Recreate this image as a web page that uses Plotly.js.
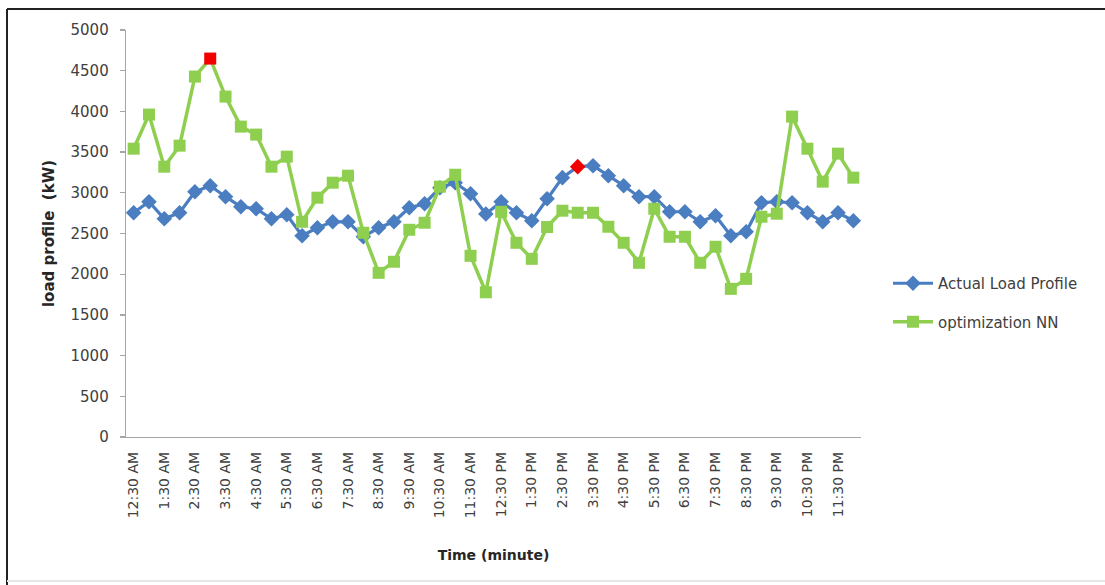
<!DOCTYPE html>
<html>
<head>
<meta charset="utf-8">
<script src="https://cdn.plot.ly/plotly-3.0.1.min.js"></script>
<style>
  html, body { margin: 0; padding: 0; background: #ffffff; }
  #chart { width: 1105px; height: 585px; }
</style>
</head>
<body>
<div id="chart"></div>
<script>
// Time categories (every 30 minutes)
const times = [
  "12:30 AM","1:00 AM","1:30 AM","2:00 AM","2:30 AM","3:00 AM","3:30 AM","4:00 AM",
  "4:30 AM","5:00 AM","5:30 AM","6:00 AM","6:30 AM","7:00 AM","7:30 AM","8:00 AM",
  "8:30 AM","9:00 AM","9:30 AM","10:00 AM","10:30 AM","11:00 AM","11:30 AM","12:00 PM",
  "12:30 PM","1:00 PM","1:30 PM","2:00 PM","2:30 PM","3:00 PM","3:30 PM","4:00 PM",
  "4:30 PM","5:00 PM","5:30 PM","6:00 PM","6:30 PM","7:00 PM","7:30 PM","8:00 PM",
  "8:30 PM","9:00 PM","9:30 PM","10:00 PM","10:30 PM","11:00 PM","11:30 PM","12:00 AM "
];

// Tick labels shown on the axis
const tickLabels = [
  "12:30 AM","1:30 AM","2:30 AM","3:30 AM","4:30 AM","5:30 AM","6:30 AM","7:30 AM",
  "8:30 AM","9:30 AM","10:30 AM","11:30 AM","12:30 PM","1:30 PM","2:30 PM","3:30 PM",
  "4:30 PM","5:30 PM","6:30 PM","7:30 PM","8:30 PM","9:30 PM","10:30 PM","11:30 PM"
];

// Actual Load Profile (kW)
const actualLoad = [
  2755, 2890, 2681, 2755, 3013, 3087, 2952, 2829, 2804, 2681, 2730, 2472,
  2570, 2644, 2644, 2460, 2570, 2644, 2817, 2866, 3062, 3124, 2989, 2740,
  2890, 2755, 2657, 2927, 3186, 3321, 3333, 3210, 3087, 2952, 2952, 2767,
  2767, 2644, 2718, 2472, 2521, 2878, 2890, 2878, 2755, 2644, 2755, 2657
];

// optimization NN (kW)
const optimizationNN = [
  3542, 3961, 3321, 3579, 4428, 4649, 4182, 3813, 3715, 3321, 3444, 2644,
  2940, 3124, 3210, 2509, 2017, 2153, 2546, 2632, 3075, 3222, 2226, 1778,
  2767, 2386, 2189, 2580, 2780, 2755, 2755, 2583, 2386, 2140, 2804, 2460,
  2460, 2140, 2337, 1820, 1943, 2706, 2743, 3936, 3542, 3137, 3481, 3186
];

// Highlighted (peak) points
const actualPeakIndex = 29;
const nnPeakIndex = 5;

const blue = "#4A7EC0";
const green = "#8FCF4F";
const red = "#F20000";

const blueColors = actualLoad.map((v, i) => i === actualPeakIndex ? red : blue);
const greenColors = optimizationNN.map((v, i) => i === nnPeakIndex ? red : green);

const font = "'DejaVu Sans', 'Liberation Sans', sans-serif";

const traces = [
  {
    x: times, y: actualLoad, type: "scatter", mode: "lines+markers",
    name: "Actual Load Profile", legendgroup: "a",
    line: { color: blue, width: 3.2 },
    marker: { symbol: "diamond", size: 12, color: blueColors, line: { width: 0 } },
    cliponaxis: false
  },
  {
    x: times, y: optimizationNN, type: "scatter", mode: "lines+markers",
    name: "optimization NN", legendgroup: "b",
    line: { color: green, width: 3.5 },
    marker: { symbol: "square", size: 12, color: greenColors, line: { width: 0 } },
    cliponaxis: false
  }
];

// tick values: every second category
const tickVals = times.filter((t, i) => i % 2 === 0);

const L = 126, R = 861, T = 30, B = 437;
const W = R - L, H = B - T;

const layout = {
  width: 1105, height: 585,
  margin: { l: L, r: 1105 - R, t: T, b: 585 - B },
  paper_bgcolor: "#ffffff", plot_bgcolor: "#ffffff",
  font: { family: font, color: "#404040" },
  showlegend: true,
  legend: {
    x: (888 - L) / W, xanchor: "left", y: (B - 267) / H, yanchor: "top",
    font: { family: font, size: 15, color: "#404040" },
    traceorder: "grouped", tracegroupgap: 16,
    bgcolor: "rgba(0,0,0,0)", itemwidth: 40
  },
  xaxis: {
    type: "category",
    categoryorder: "array", categoryarray: times,
    range: [-0.5, times.length - 0.5],
    tickmode: "array", tickvals: tickVals, ticktext: tickLabels,
    tickangle: -90,
    tickfont: { family: font, size: 14, color: "#404040" },
    showgrid: false, zeroline: false,
    showline: true, linecolor: "#A6A6A6", linewidth: 1.3,
    ticks: "", ticklabelstandoff: 8,
    title: { text: "<b>Time (minute)</b>", font: { family: font, size: 14, color: "#262626" }, standoff: 32 }
  },
  yaxis: {
    range: [0, 5000], dtick: 500, tick0: 0,
    tickfont: { family: font, size: 15, color: "#404040" },
    showgrid: false, zeroline: false,
    showline: true, linecolor: "#A6A6A6", linewidth: 1.3,
    ticks: "outside", ticklen: 5, tickcolor: "#A6A6A6", tickwidth: 1.3,
    ticklabelstandoff: 8,
    title: { text: "<b>load profile  (kW)</b>", font: { family: font, size: 15, color: "#262626" }, standoff: 12 }
  },
  shapes: [
    { type: "line", xref: "paper", yref: "paper",
      x0: (7 - L) / W, x1: (1105 - L) / W, y0: (B - 9) / H, y1: (B - 9) / H,
      line: { color: "#222222", width: 2 } },
    { type: "line", xref: "paper", yref: "paper",
      x0: (7 - L) / W, x1: (7 - L) / W, y0: (B - 9) / H, y1: (B - 585) / H,
      line: { color: "#222222", width: 2 } },
    { type: "line", xref: "paper", yref: "paper",
      x0: (7 - L) / W, x1: (1105 - L) / W, y0: (B - 581) / H, y1: (B - 581) / H,
      line: { color: "#E6E6E6", width: 2 } }
  ]
};

Plotly.newPlot("chart", traces, layout, { displayModeBar: false, staticPlot: true });
</script>
</body>
</html>
